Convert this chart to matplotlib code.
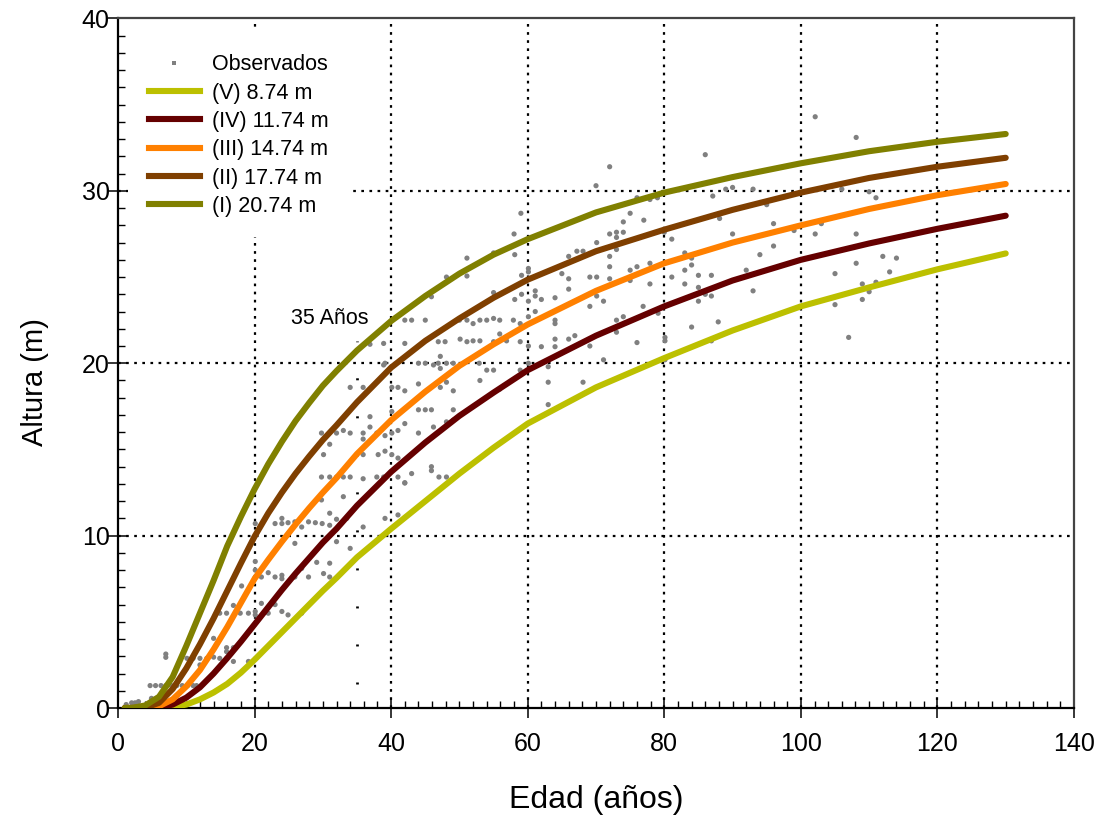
import matplotlib
matplotlib.use("Agg")
import matplotlib.pyplot as plt
from matplotlib.ticker import MultipleLocator
from matplotlib.patches import Rectangle
from matplotlib.lines import Line2D

plt.rcParams['font.family'] = ['Liberation Sans', 'DejaVu Sans']

# ---------------- data ----------------
ages = [1, 2, 4, 6, 8, 10, 12, 14, 16, 18, 20, 22, 24, 26, 28, 30, 32, 35,
        40, 45, 50, 55, 60, 70, 80, 90, 100, 110, 120, 130]

h_I = [0, 0, 0.15, 0.65, 1.8, 3.6, 5.5, 7.4, 9.4, 11.1, 12.7, 14.15, 15.45, 16.65,
       17.7, 18.7, 19.55, 20.74, 22.45, 23.9, 25.2, 26.3, 27.2, 28.75, 29.9, 30.8,
       31.6, 32.3, 32.85, 33.3]
h_II = [0, 0, 0.02, 0.3, 1.1, 2.3, 3.7, 5.2, 6.8, 8.4, 9.95, 11.3, 12.5, 13.6,
        14.6, 15.55, 16.4, 17.74, 19.75, 21.3, 22.6, 23.8, 24.85, 26.5, 27.75, 28.9,
        29.9, 30.75, 31.4, 31.92]
h_III = [0, 0, 0, 0.1, 0.5, 1.25, 2.2, 3.4, 4.7, 6.1, 7.5, 8.6, 9.65, 10.65,
         11.6, 12.5, 13.35, 14.74, 16.7, 18.35, 19.85, 21.1, 22.25, 24.2, 25.8, 27.0,
         28.0, 28.95, 29.75, 30.4]
h_IV = [0, 0, 0, 0.02, 0.2, 0.6, 1.2, 2.0, 2.9, 3.85, 4.85, 5.85, 6.85, 7.8,
        8.7, 9.6, 10.4, 11.74, 13.7, 15.4, 16.95, 18.3, 19.6, 21.6, 23.3, 24.8,
        26.0, 26.95, 27.8, 28.56]
h_V = [0, 0, 0, 0, 0.05, 0.2, 0.5, 0.9, 1.4, 2.05, 2.8, 3.6, 4.4, 5.2,
       6.0, 6.8, 7.55, 8.74, 10.4, 12.0, 13.6, 15.1, 16.5, 18.6, 20.3, 21.9,
       23.3, 24.4, 25.45, 26.37]

curve_labels = ['(V) 8.74 m', '(IV) 11.74 m', '(III) 14.74 m', '(II) 17.74 m', '(I) 20.74 m']
curve_colors = ['#BCC000', '#650000', '#FF8000', '#7F3F00', '#808000']

obs = [
    (1.2, 0.2), (2.0, 0.3), (2.5, 0.3), (3.0, 0.37), (4.9, 0.56),
    (4.7, 1.3), (5.5, 1.3), (6.3, 1.3), (7.0, 1.3), (7.8, 1.3), (8.6, 1.3), (9.4, 1.3),
    (10.2, 1.3), (11.0, 1.3), (11.5, 1.3),
    (7.0, 3.13), (7.0, 2.94),
    (10.1, 2.88), (11.0, 2.88), (12.0, 2.88), (13.0, 2.88), (14.0, 2.95), (14.9, 2.88),
    (15.9, 2.88), (16.9, 2.7), (15.9, 3.27), (19.1, 2.7), (12.0, 2.5),
    (14.0, 4.04), (15.9, 3.5), (16.9, 3.5), (18.1, 7.08),
    (14.9, 5.5), (15.9, 5.5), (16.9, 5.95), (17.9, 5.5), (19.1, 5.5), (20.1, 5.6), (20.1, 5.4),
    (21.0, 6.07), (22.0, 5.5), (23.0, 6.0), (24.0, 5.6), (24.9, 5.4), (26.9, 5.5),
    (20.1, 8.0), (20.1, 7.6), (21.0, 7.6), (22.0, 7.85), (23.0, 7.6), (24.0, 7.7), (24.0, 7.5),
    (25.9, 7.6), (26.9, 8.1), (27.9, 7.6), (29.1, 8.45), (30.1, 7.8), (31.0, 7.6), (31.0, 8.4),
    (32.0, 9.65), (25.9, 9.55), (34.0, 9.26), (20.1, 8.5),
    (20.1, 10.7), (23.0, 10.7), (24.0, 11.0), (24.0, 10.7), (24.9, 10.75), (25.9, 10.8),
    (26.9, 10.5), (27.9, 10.8), (28.9, 10.75), (29.9, 10.7), (31.0, 10.6), (31.0, 11.3),
    (32.0, 10.95), (33.5, 11.0),
    (29.8, 12.07), (33.0, 12.26), (35.9, 10.5), (39.1, 11.0), (41.0, 11.2), (42.0, 13.05),
    (29.8, 13.4), (31.0, 13.4), (32.0, 13.4), (33.0, 13.4), (34.0, 13.4), (35.9, 13.3),
    (37.9, 13.4), (38.9, 13.4), (41.0, 13.4), (42.0, 13.07), (43.0, 13.6), (45.9, 13.77),
    (29.8, 15.95), (32.0, 15.95), (33.0, 16.1), (34.0, 15.95), (35.9, 15.95), (35.9, 15.6),
    (36.9, 16.3), (37.9, 15.95), (39.1, 15.8), (40.1, 15.95), (41.0, 16.1), (42.0, 16.5),
    (44.0, 15.95), (46.2, 16.3), (48.1, 16.6), (49.1, 16.7),
    (31.0, 15.3), (30.1, 14.7), (35.9, 14.7), (38.1, 14.7), (39.1, 14.9), (40.1, 14.7),
    (41.0, 14.5), (45.9, 14.0), (47.0, 13.4), (48.1, 13.4),
    (34.0, 18.6), (35.9, 18.6), (40.1, 18.6), (41.0, 18.6), (42.0, 18.4), (44.0, 18.8),
    (47.2, 18.6), (48.1, 18.9), (49.1, 18.4), (36.9, 16.9), (40.1, 17.2), (44.0, 17.3),
    (45.0, 17.3), (45.9, 17.3), (49.1, 17.3), (53.0, 19.0), (55.9, 18.5),
    (38.9, 19.9), (46.2, 19.9), (47.2, 20.4), (47.2, 19.7), (48.1, 20.0), (49.1, 20.0),
    (39.1, 20.0), (44.0, 20.0), (45.0, 20.0), (46.9, 20.0), (52.9, 20.0), (54.0, 19.6),
    (55.0, 19.6), (58.9, 19.6), (60.1, 20.0),
    (36.9, 21.1), (38.9, 21.15), (42.0, 21.15), (46.9, 21.25), (47.9, 21.25), (50.1, 21.4),
    (51.1, 21.25), (52.0, 21.3), (53.0, 21.3), (55.0, 21.25), (55.9, 21.7), (56.9, 21.3),
    (58.9, 21.25), (60.1, 21.0), (62.0, 20.96), (64.0, 20.96), (64.0, 21.4), (66.0, 21.4),
    (66.9, 21.6),
    (42.0, 22.5), (43.0, 22.5), (45.0, 22.5), (50.0, 22.5), (51.1, 22.5), (52.0, 22.3),
    (53.0, 22.5), (54.0, 22.5), (55.0, 22.6), (55.9, 22.5), (57.9, 22.5), (58.9, 22.3),
    (60.1, 22.7), (61.1, 23.0), (64.0, 22.5), (64.0, 22.3),
    (45.9, 23.86), (48.1, 25.0), (51.1, 25.06), (51.1, 26.1), (55.0, 26.4), (58.1, 26.3),
    (58.0, 27.5), (59.0, 28.7), (55.0, 24.1), (58.1, 23.7), (59.1, 24.0), (59.1, 25.1),
    (60.1, 25.5), (60.1, 25.3), (60.1, 23.6), (61.1, 24.2), (61.1, 23.9), (62.0, 23.7),
    (64.0, 23.8), (65.0, 25.2), (66.0, 24.9), (66.0, 24.3), (66.0, 26.2), (67.2, 26.5),
    (68.1, 26.5), (70.1, 27.0), (70.0, 30.3), (72.0, 31.4),
    (63.0, 19.8), (63.0, 18.9), (63.0, 17.6), (68.1, 18.9), (69.1, 21.0), (71.1, 20.2),
    (69.1, 23.3), (70.1, 23.9), (71.1, 23.6), (69.1, 25.0), (70.1, 25.0), (72.0, 26.2),
    (73.0, 26.6), (72.0, 25.6), (72.0, 24.9), (73.0, 22.5), (73.0, 21.8), (74.0, 22.7),
    (72.0, 27.5), (73.0, 27.6), (73.0, 27.3), (74.0, 27.6), (74.0, 28.2), (75.0, 28.7),
    (76.0, 29.6), (77.0, 28.3), (77.9, 29.5), (79.0, 29.6),
    (75.0, 25.4), (76.0, 25.6), (77.9, 25.8), (75.0, 24.8), (77.9, 24.6), (76.0, 21.2),
    (76.9, 23.3), (79.1, 22.9), (80.1, 21.5), (80.1, 21.3), (80.1, 20.2),
    (80.0, 27.6), (81.1, 27.2), (83.0, 26.4), (84.0, 26.1), (84.0, 25.7), (83.0, 25.4),
    (81.1, 25.0), (83.0, 24.6), (85.0, 25.1), (85.0, 24.4), (85.0, 23.6), (86.0, 24.0),
    (86.9, 25.1), (86.9, 23.9), (87.9, 22.4), (84.0, 22.1), (86.9, 21.3),
    (86.0, 32.1), (87.1, 29.7), (88.1, 28.4), (89.0, 30.1), (90.0, 30.2), (90.0, 27.5),
    (92.0, 25.4), (93.0, 24.2), (94.0, 26.3), (96.0, 26.8), (93.0, 30.1), (95.0, 29.2),
    (96.0, 28.1), (99.0, 27.7),
    (102.1, 34.3), (108.1, 33.1), (106.0, 30.1), (110.0, 29.95), (111.0, 29.6),
    (102.1, 27.5), (103.0, 28.1), (108.1, 27.5), (112.0, 26.2), (114.0, 26.1),
    (105.0, 25.2), (108.1, 25.8), (113.0, 25.3), (109.0, 24.6), (111.0, 24.7),
    (110.0, 24.15), (109.0, 23.7), (105.0, 23.4), (107.0, 21.5),
]
obs_age = [p[0] for p in obs]
obs_h = [p[1] for p in obs]

base_age = 35
base_line_top = 21.3
base_label = '35 Años'

x_ticks = [0, 20, 40, 60, 80, 100, 120, 140]
y_ticks = [0, 10, 20, 30, 40]

# ---------------- figure ----------------
W, H = 1102, 825
fig = plt.figure(figsize=(W / 100, H / 100), dpi=100)
L, R, B, T = 118, 1074, 708, 18.5
ax = fig.add_axes([L / W, 1 - B / H, (R - L) / W, (B - T) / H])
ax.set_xlim(0, 140)
ax.set_ylim(0, 40)

# grid (dotted)
ax.set_axisbelow(True)
ax.set_xticks(x_ticks)
ax.set_yticks(y_ticks)
ax.xaxis.set_minor_locator(MultipleLocator(2))
ax.yaxis.set_minor_locator(MultipleLocator(1))
ax.grid(True, which='major', color='black', linewidth=1.6, linestyle=(0, (1.2, 2.45)))
for gl in (ax.get_xgridlines()[0], ax.get_xgridlines()[-1],
           ax.get_ygridlines()[0], ax.get_ygridlines()[-1]):
    gl.set_visible(False)

# white legend background hiding the grid
ax.add_patch(Rectangle((0.0105, 0.683), 0.232, 0.30, transform=ax.transAxes,
                       facecolor='white', edgecolor='none', zorder=1))

# observations
ax.scatter(obs_age, obs_h, s=14, color='#808080', marker='o',
           edgecolors='none', zorder=2)

# reference age line
ax.plot([base_age, base_age], [1.38, base_line_top], color='black', lw=1.95,
        linestyle=(0, (0.74, 13.3)), zorder=2.5)
ax.text(31.0, 22.6, base_label, ha='center', va='center', fontsize=15.5, zorder=4)

# curves
series = [h_V, h_IV, h_III, h_II, h_I]
handles = [Line2D([], [], linestyle='none', marker='s', markersize=3,
                  color='#808080', markeredgewidth=0)]
for hv, lab, col in zip(series, curve_labels, curve_colors):
    ax.plot(ages, hv, color=col, lw=4.4, solid_capstyle='round',
            solid_joinstyle='round', zorder=3)
    handles.append(Line2D([], [], color=col, lw=4.4))
labels = ['Observados'] + curve_labels

leg = ax.legend(handles, labels, loc='upper left', bbox_to_anchor=(0.032, 0.948),
                frameon=False, fontsize=15.5, handlelength=2.4, handletextpad=0.55,
                labelspacing=0.34, borderpad=0, borderaxespad=0)
leg.set_zorder(5)

# spines & ticks
for s in ('left', 'bottom'):
    ax.spines[s].set_linewidth(1.6)
    ax.spines[s].set_color('black')
for s in ('top', 'right'):
    ax.spines[s].set_linewidth(1.6)
    ax.spines[s].set_color('#444444')
ax.tick_params(axis='x', which='major', direction='inout', length=15, width=1.1,
               labelsize=18, pad=10, top=False)
ax.tick_params(axis='x', which='minor', direction='in', length=5, width=1.0, top=False)
ax.tick_params(axis='y', which='major', direction='inout', length=14, width=1.1,
               labelsize=18, pad=-1, right=False)
ax.tick_params(axis='y', which='minor', direction='in', length=5, width=1.0, right=False)

fig.text(596 / W, 1 - 800 / H, 'Edad (años)', ha='center', va='center', fontsize=23)
fig.text(35 / W, 1 - 382 / H, 'Altura (m)', ha='center', va='center', fontsize=21,
         rotation=90)

fig.savefig('out.png', dpi=100)
